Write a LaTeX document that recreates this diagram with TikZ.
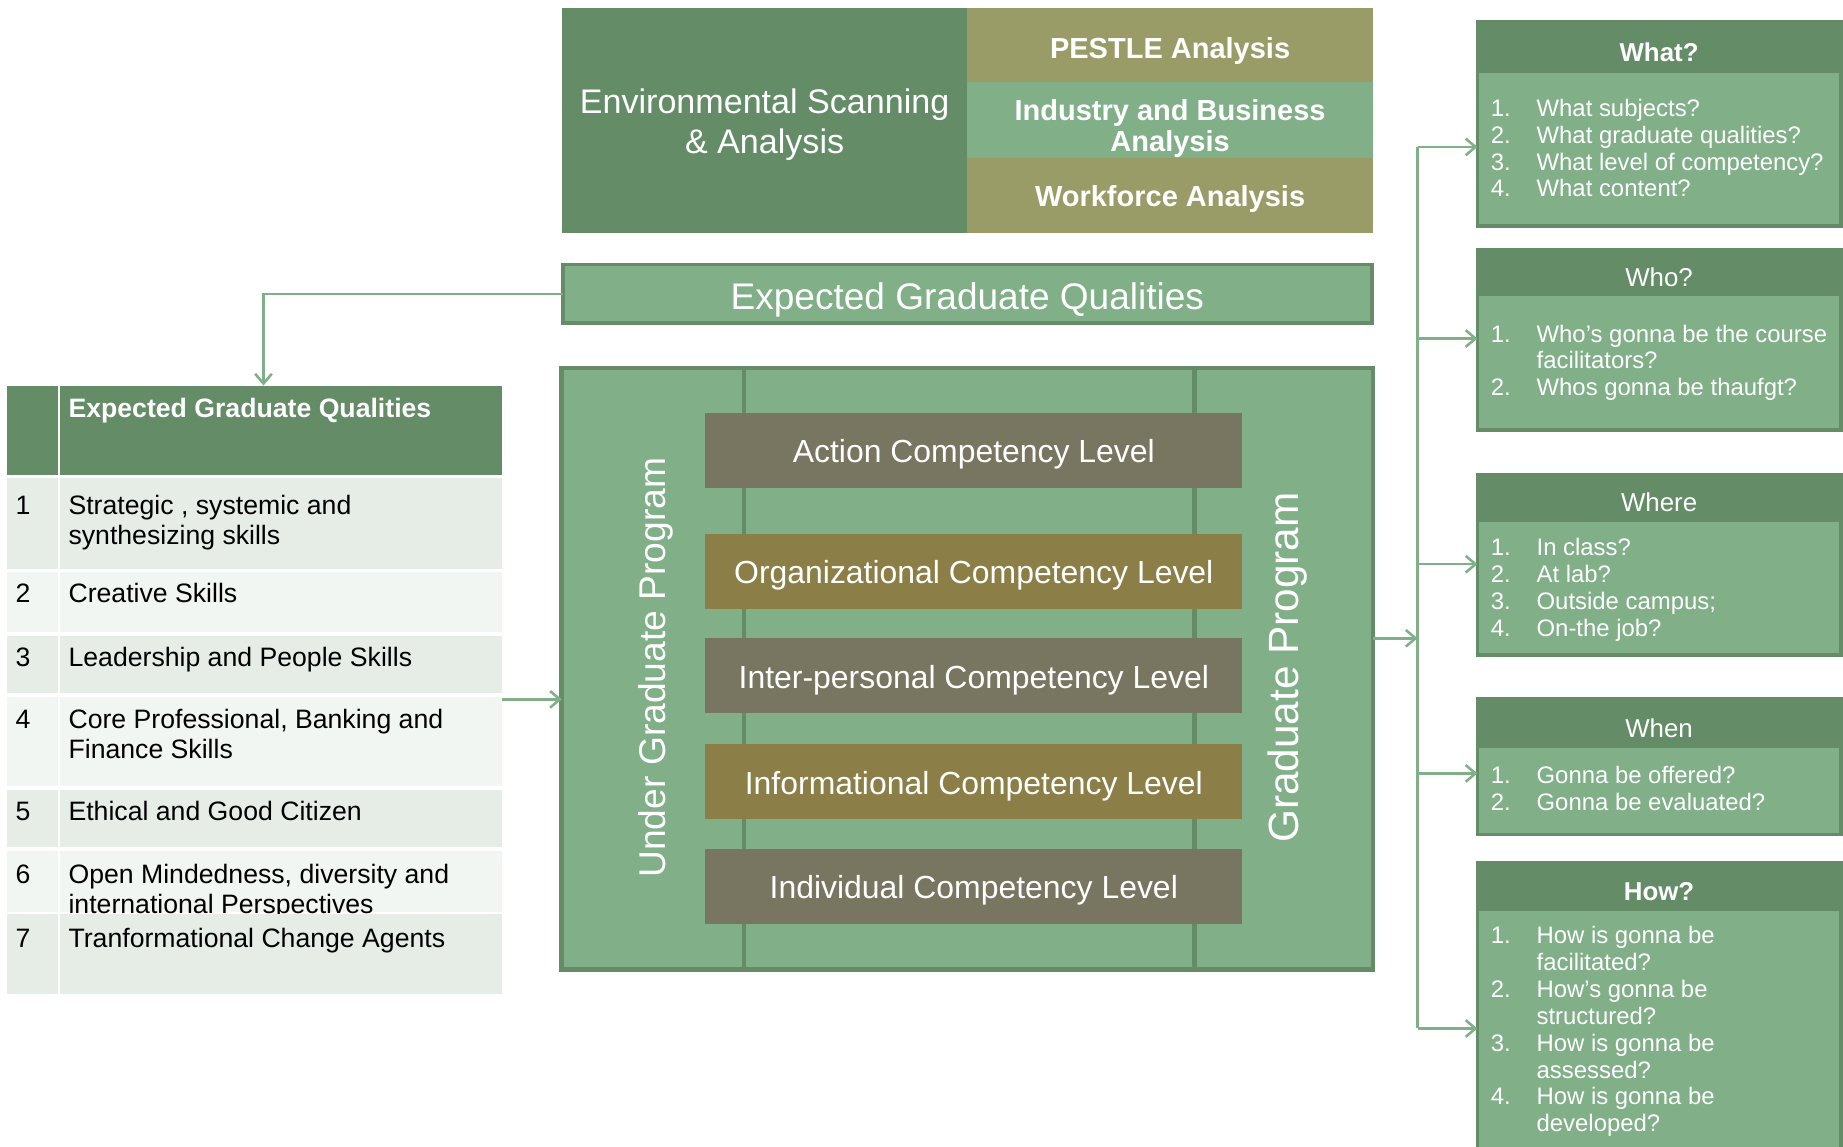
\documentclass[tikz,border=0pt]{standalone}
\usepackage{fontspec}
\setmainfont{Liberation Sans}
\usetikzlibrary{arrows.meta,fit}

\definecolor{dgreen}{HTML}{638C67}
\definecolor{lgreen}{HTML}{80AF88}
\definecolor{olive}{HTML}{9A9C68}
\definecolor{slate}{HTML}{787560}
\definecolor{gold}{HTML}{8B7F47}
\definecolor{rowA}{HTML}{E6EDE7}
\definecolor{rowB}{HTML}{F2F6F2}

\newcommand\ftab{\fontsize{13.6}{15.2}\selectfont}
\newcommand\fbig{\fontsize{18.9}{22}\selectfont}
\newcommand\fenv{\fontsize{17.4}{20.4}\selectfont}
\newcommand\fpest{\fontsize{14.8}{16.2}\selectfont\bfseries}
\newcommand\fcomp{\fontsize{16.3}{19}\selectfont}
\newcommand\fug{\fontsize{19}{22}\selectfont}
\newcommand\fgr{\fontsize{21.6}{25}\selectfont}
\newcommand\flist{\fontsize{12.2}{13.7}\selectfont}
\newcommand\fhead{\fontsize{13.2}{15}\selectfont}

% one-column stack of lines, baseline on the first line
\newcommand\stack[1]{\begin{tabular}[t]{@{}l@{}}#1\end{tabular}}
% numbered list with hanging text
\newcommand\qlist[1]{\begin{tabular}[t]{@{}p{23.4pt}@{}l@{}}#1\end{tabular}}

\begin{document}
\begin{tikzpicture}[x=0.6pt,y=-0.6pt,
  box/.style={inner sep=0pt, outer sep=0pt},
  arr/.style={draw=lgreen, line width=1.3pt, -{Straight Barb[length=5pt,width=8.5pt]}},
  plain/.style={draw=lgreen, line width=1.3pt},
  wtext/.style={text=white, align=center, inner sep=0pt},
  ctext/.style={wtext, yshift=-2.2pt},
  tabtxt/.style={font=\ftab, text=black, anchor=base west, inner sep=0pt},
  comp/.style={ctext, font=\fcomp},
  qbox/.style={box, draw=dgreen, line width=2pt, fill=lgreen},
  qhead/.style={box, fill=dgreen},
  qhtext/.style={ctext, font=\fhead},
  qtext/.style={font=\flist, text=white, anchor=base west, inner sep=0pt}]

\clip (0,0) rectangle (1568,975);
\fill[white] (0,0) rectangle (1568,975);

% ---------- environmental scanning block ----------
\node[box, fit={(478,7) (823,198)}, fill=dgreen] (env) {};
\node[ctext, font=\fenv] (envt) at (env.center) {Environmental Scanning\\\& Analysis};
\node[box, fit={(823,7) (1168,70)}, fill=olive] (pestle) {};
\node[ctext, yshift=-0.8pt, font=\fpest] (pestlet) at (pestle.center) {PESTLE Analysis};
\node[box, fit={(823,70) (1168,134)}, fill=lgreen] (industry) {};
\node[ctext, yshift=-2.2pt, font=\fpest] (industryt) at (industry.center) {Industry and Business\\Analysis};
\node[box, fit={(823,134) (1168,198)}, fill=olive] (workforce) {};
\node[ctext, font=\fpest] (workforcet) at (workforce.center) {Workforce Analysis};

% ---------- expected graduate qualities bar ----------
\node[box, fit={(479,225) (1167,275)}, fill=lgreen, draw=dgreen, line width=2pt] (egq) {};
\node[ctext, yshift=-0.8pt, font=\fbig] (egqt) at (egq.center) {Expected Graduate Qualities};

% ---------- qualities table ----------
\node[box, fit={(6,328) (49,404)}, fill=dgreen] (hnum) {};
\node[box, fit={(51,328) (427,404)}, fill=dgreen] (hcell) {};
\node[tabtxt, text=white, font=\ftab\bfseries] (htext) at (58,355) {Expected Graduate Qualities};

\newcommand\qrow[6]{%
  \node[box, fit={(6,#2) (49,#3)}, fill=#4] (#1n) {};
  \node[box, fit={(51,#2) (427,#3)}, fill=#4] (#1c) {};
  \node[tabtxt] (#1a) at (13,#5) {#6};
}
\newcommand\qtxt[3]{\node[tabtxt] (#1) at (58,#2) {\stack{#3}};}

\qrow{r1}{407}{484}{rowA}{438}{1}
\qtxt{r1t}{438}{Strategic , systemic and\\synthesizing skills}
\qrow{r2}{487}{538}{rowB}{513}{2}
\qtxt{r2t}{513}{Creative Skills}
\qrow{r3}{541}{590}{rowA}{567}{3}
\qtxt{r3t}{567}{Leadership and People Skills}
\qrow{r4}{593}{669}{rowB}{620}{4}
\qtxt{r4t}{620}{Core Professional, Banking and\\Finance Skills}
\qrow{r5}{672}{721}{rowA}{698}{5}
\qtxt{r5t}{698}{Ethical and Good Citizen}
\qrow{r6}{724}{776}{rowB}{752}{6}
\qtxt{r6t}{752}{Open Mindedness, diversity and\\international Perspectives}
\qrow{r7}{778}{846}{rowA}{806}{7}
\qtxt{r7t}{806}{Tranformational Change Agents}

\node[box, fit={(6,328) (427,846)}] (tbl) {};

% ---------- programme block ----------
\node[box, fit={(478,313) (1168,825)}, fill=lgreen, draw=dgreen, line width=2.4pt] (mid) {};
\node[box, fit={(478,313) (633,825)}, draw=dgreen, line width=2.4pt] (ugcol) {};
\node[box, fit={(1016,313) (1168,825)}, draw=dgreen, line width=2.4pt] (gcol) {};
\node[wtext, font=\fug, rotate=90] (ugtext) at (558,568) {Under Graduate Program};
\node[wtext, font=\fgr, rotate=90] (gtext) at (1095,568) {Graduate Program};

\node[box, fit={(600,351) (1057,415)}, fill=slate] (c1) {};
\node[comp] (c1t) at (c1.center) {Action Competency Level};
\node[box, fit={(600,454) (1057,518)}, fill=gold] (c2) {};
\node[comp] (c2t) at (c2.center) {Organizational Competency Level};
\node[box, fit={(600,543) (1057,607)}, fill=slate] (c3) {};
\node[comp] (c3t) at (c3.center) {Inter-personal Competency Level};
\node[box, fit={(600,633) (1057,697)}, fill=gold] (c4) {};
\node[comp] (c4t) at (c4.center) {Informational Competency Level};
\node[box, fit={(600,722) (1057,786)}, fill=slate] (c5) {};
\node[comp] (c5t) at (c5.center) {Individual Competency Level};

% ---------- question boxes ----------
\node[qbox, fit={(1257,19) (1566,192)}] (what) {};
\node[qhead, fit={(1257,19) (1566,62)}] (whath) {};
\node[qhtext, font=\fhead\bfseries] (whatt) at (whath.center) {What?};
\node[qtext] (whatl) at (1268,99) {\qlist{1. & What subjects?\\2. & What graduate qualities?\\3. & What level of competency?\\4. & What content?}};

\node[qbox, fit={(1257,213) (1566,366)}] (who) {};
\node[qhead, fit={(1257,213) (1566,252)}] (whoh) {};
\node[qhtext] (whot) at (whoh.center) {Who?};
\node[qtext] (whol) at (1268,291) {\qlist{1. & Who’s gonna be the course\\ & facilitators?\\2. & Whos gonna be thaufgt?}};

\node[qbox, fit={(1257,404) (1566,557)}] (where) {};
\node[qhead, fit={(1257,404) (1566,444)}] (whereh) {};
\node[qhtext] (wheret) at (whereh.center) {Where};
\node[qtext] (wherel) at (1268,473) {\qlist{1. & In class?\\2. & At lab?\\3. & Outside campus;\\4. & On-the job?}};

\node[qbox, fit={(1257,595) (1566,710)}] (when) {};
\node[qhead, fit={(1257,595) (1566,636)}] (whenh) {};
\node[qhtext] (whent) at (whenh.center) {When};
\node[qtext] (whenl) at (1268,667) {\qlist{1. & Gonna be offered?\\2. & Gonna be evaluated?}};

\node[qbox, fit={(1257,734) (1566,1000)}] (how) {};
\node[qhead, fit={(1257,734) (1566,775)}] (howh) {};
\node[qhtext, font=\fhead\bfseries] (howt) at (howh.center) {How?};
\node[qtext] (howl) at (1268,803) {\qlist{1. & How is gonna be\\ & facilitated?\\2. & How’s gonna be\\ & structured?\\3. & How is gonna be\\ & assessed?\\4. & How is gonna be\\ & developed?}};

% ---------- connectors ----------
\draw[arr] (egq.west) -| ([xshift=4.6pt]tbl.north);
\draw[arr] (tbl.east |- 0,595) -- (mid.west |- 0,595);

\coordinate (hub) at (1206,543);
\coordinate (btop) at (1206,125);
\coordinate (bbot) at (1206,875);
\draw[arr] (mid.east |- hub) -- (hub);
\draw[plain] (btop) -- (bbot);
\draw[arr] (btop) -- (what.west |- btop);
\draw[arr] (hub |- 0,288) -- (who.west |- 0,288);
\draw[arr] (hub |- 0,480) -- (where.west |- 0,480);
\draw[arr] (hub |- 0,658) -- (when.west |- 0,658);
\draw[arr] (bbot) -- (how.west |- bbot);
\end{tikzpicture}
\end{document}
